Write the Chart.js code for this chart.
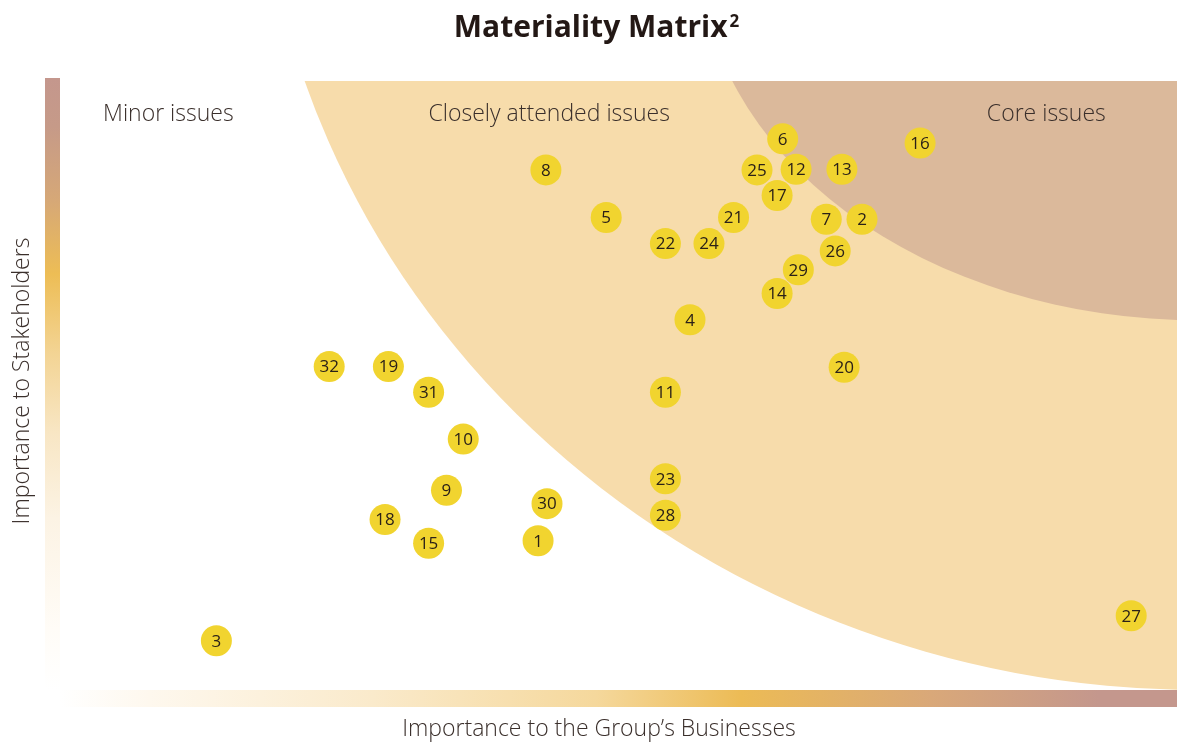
<!DOCTYPE html>
<html>
<head>
<meta charset="utf-8">
<script src="https://cdn.jsdelivr.net/npm/chart.js@4.4.1/dist/chart.umd.min.js"></script>
<style>
  html, body { margin: 0; padding: 0; background: #ffffff; }
  #wrap { width: 1177px; height: 745px; }
</style>
</head>
<body>
<div id="wrap"><canvas id="matrix" width="1177" height="745"></canvas></div>
<script>
// issue numbers and their scores (0-100 on both axes)
const issueIds = [1, 2, 3, 4, 5, 6, 7, 8, 9, 10, 11, 12, 13, 14, 15, 16,
  17, 18, 19, 20, 21, 22, 23, 24, 25, 26, 27, 28, 29, 30, 31, 32];
const importanceBusiness = [42.8, 71.8, 14.0, 56.4, 48.9, 64.7, 68.6, 43.5, 34.6, 36.1, 54.2, 65.9, 70.0, 64.2, 33.0, 77.0,
  64.2, 29.1, 29.4, 70.2, 60.3, 54.2, 54.2, 58.1, 62.4, 69.4, 95.9, 54.2, 66.1, 43.6, 33.0, 24.1];
const importanceStakeholders = [24.5, 77.3, 8.1, 60.8, 77.6, 90.5, 77.3, 85.4, 32.8, 41.2, 48.9, 85.5, 85.5, 65.1, 24.1, 89.8,
  81.2, 28.0, 53.1, 53.0, 77.6, 73.3, 34.7, 73.3, 85.4, 72.1, 12.2, 28.7, 69.0, 30.6, 48.9, 53.1];

// zone boundaries, as ellipses in the same 0-100 units
const closelyAttendedZone = { cx: 102, cy: 146, rx: 84.4, ry: 146 };
const coreZone = { cx: 102, cy: 121.5, rx: 44.7, ry: 60.8 };
const zoneLabels = [
  { text: "Minor issues", x: 9.7 },
  { text: "Closely attended issues", x: 43.8 },
  { text: "Core issues", x: 88.3 },
];

const zonesPlugin = {
  id: "zones",
  beforeDatasetsDraw(chart) {
    const { ctx, chartArea, scales } = chart;
    const x = scales.x, y = scales.y;
    const drawZone = (z, color) => {
      const cx = x.getPixelForValue(z.cx);
      const cy = y.getPixelForValue(z.cy);
      const rx = Math.abs(x.getPixelForValue(z.cx + z.rx) - cx);
      const ry = Math.abs(y.getPixelForValue(z.cy - z.ry) - cy);
      ctx.beginPath();
      ctx.ellipse(cx, cy, rx, ry, 0, 0, Math.PI * 2);
      ctx.fillStyle = color;
      ctx.fill();
    };
    ctx.save();
    ctx.beginPath();
    ctx.rect(chartArea.left, chartArea.top, chartArea.right - chartArea.left, chartArea.bottom - chartArea.top);
    ctx.clip();
    drawZone(closelyAttendedZone, "#f7dcab");
    drawZone(coreZone, "#dbb99b");
    ctx.restore();

    // zone captions
    ctx.save();
    ctx.font = "300 23px 'Open Sans', sans-serif";
    ctx.fillStyle = "#3a2f2b";
    ctx.textAlign = "center";
    ctx.textBaseline = "middle";
    zoneLabels.forEach(l => {
      ctx.fillText(l.text, x.getPixelForValue(l.x), chartArea.top + 33);
    });
    ctx.restore();

    // gradient bars standing in for the axes
    ctx.save();
    const left = chartArea.left, bottom = chartArea.bottom;
    const vg = ctx.createLinearGradient(0, chartArea.top - 3, 0, bottom);
    vg.addColorStop(0, "#c4978d");
    vg.addColorStop(0.08, "#c69a88");
    vg.addColorStop(0.2, "#d6a877");
    vg.addColorStop(0.32, "#edbd55");
    vg.addColorStop(0.45, "#f3d494");
    vg.addColorStop(0.58, "#f8e6c4");
    vg.addColorStop(0.72, "#fcf3e4");
    vg.addColorStop(0.9, "#fffcf7");
    vg.addColorStop(1, "#ffffff");
    ctx.fillStyle = vg;
    ctx.fillRect(left - 15, chartArea.top - 3, 15, bottom - chartArea.top + 3);

    const hg = ctx.createLinearGradient(left, 0, chartArea.right, 0);
    hg.addColorStop(0, "#ffffff");
    hg.addColorStop(0.08, "#fef8ee");
    hg.addColorStop(0.28, "#faeacb");
    hg.addColorStop(0.48, "#f5d89c");
    hg.addColorStop(0.61, "#ecbb55");
    hg.addColorStop(0.78, "#d9a879");
    hg.addColorStop(0.93, "#c4978d");
    hg.addColorStop(1, "#c4978d");
    ctx.fillStyle = hg;
    ctx.fillRect(left, bottom, chartArea.right - left, 17);
    ctx.restore();
  },
  afterDatasetsDraw(chart) {
    const { ctx } = chart;
    const meta = chart.getDatasetMeta(0);
    ctx.save();
    ctx.font = "17px 'Open Sans', sans-serif";
    ctx.fillStyle = "#2b2118";
    ctx.textAlign = "center";
    ctx.textBaseline = "middle";
    meta.data.forEach((pt, i) => {
      ctx.fillText(String(issueIds[i]), pt.x, pt.y + 1);
    });
    ctx.restore();
  },
  afterDraw(chart) {
    const { ctx, width } = chart;
    ctx.save();
    // title with superscript
    ctx.fillStyle = "#231815";
    ctx.textBaseline = "alphabetic";
    ctx.font = "bold 30px 'Open Sans', sans-serif";
    const main = "Materiality Matrix";
    const mw = ctx.measureText(main).width;
    ctx.font = "bold 17px 'Open Sans', sans-serif";
    const sw = ctx.measureText("2").width;
    const startX = (width - mw - sw - 2) / 2 + 8;
    ctx.font = "bold 30px 'Open Sans', sans-serif";
    ctx.fillText(main, startX, 37);
    ctx.font = "bold 17px 'Open Sans', sans-serif";
    ctx.fillText("2", startX + mw + 2, 27);

    // axis titles
    ctx.font = "300 23px 'Open Sans', sans-serif";
    ctx.fillStyle = "#3a2f2b";
    ctx.textAlign = "center";
    ctx.textBaseline = "middle";
    ctx.fillText("Importance to the Group\u2019s Businesses", 599, 729);
    ctx.translate(22, 381);
    ctx.rotate(-Math.PI / 2);
    ctx.fillText("Importance to Stakeholders", 0, 0);
    ctx.restore();
  }
};

new Chart(document.getElementById("matrix"), {
  type: "scatter",
  data: {
    datasets: [{
      label: "Issues",
      data: importanceBusiness.map((v, i) => ({ x: v, y: importanceStakeholders[i] })),
      backgroundColor: "#f1d42f",
      borderWidth: 0,
      pointRadius: 15.5,
      pointHoverRadius: 15.5,
    }]
  },
  options: {
    responsive: false,
    animation: false,
    layout: { autoPadding: false, padding: { left: 60, right: 0, top: 81, bottom: 55 } },
    scales: {
      x: { type: "linear", min: 0, max: 100, display: false },
      y: { type: "linear", min: 0, max: 100, display: false },
    },
    plugins: {
      legend: { display: false },
      tooltip: { enabled: false },
    },
  },
  plugins: [zonesPlugin],
});
</script>
</body>
</html>
